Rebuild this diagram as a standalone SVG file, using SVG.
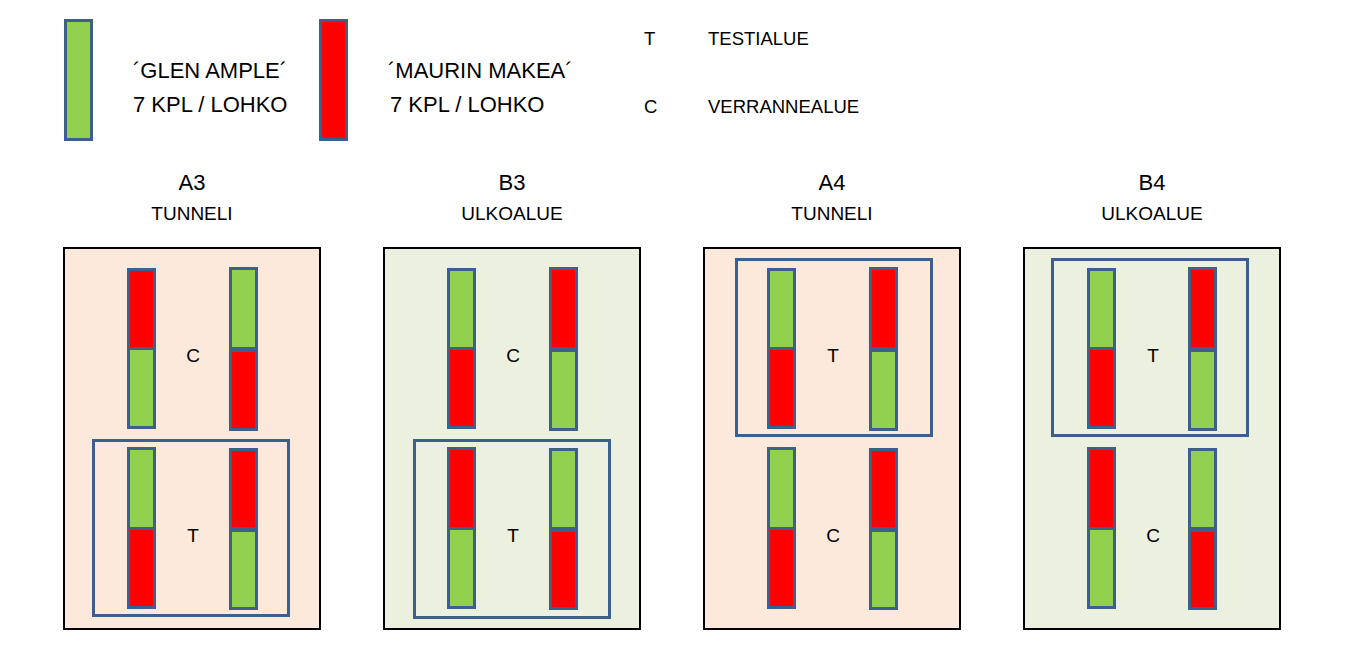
<svg xmlns="http://www.w3.org/2000/svg" width="1345" height="650" viewBox="0 0 1345 650">
<style>
text{font-family:"Liberation Sans",Arial,sans-serif;fill:#000}
.g{fill:#92d050;stroke:#3d5f8c;stroke-width:3}
.r{fill:#ff0000;stroke:#3d5f8c;stroke-width:3}
.box{fill:none;stroke:#3d5f8c;stroke-width:3}
.pa{fill:#fce9db;stroke:#000;stroke-width:2}
.pb{fill:#ebf1de;stroke:#000;stroke-width:2}
.lg{font-size:22px}
.sm{font-size:18.5px}
.tt{font-size:22px;text-anchor:middle}
.st{font-size:19px;text-anchor:middle}
.lb{font-size:19px;text-anchor:middle}
</style>
<g id="legend">
<rect class="g" x="65.5" y="20.5" width="26" height="119"/>
<text class="lg" x="133" y="78">´GLEN AMPLE´</text>
<text class="lg" x="133" y="112">7 KPL / LOHKO</text>
<rect class="r" x="320.5" y="20.5" width="26" height="119"/>
<text class="lg" x="388" y="78">´MAURIN MAKEA´</text>
<text class="lg" x="390" y="112">7 KPL / LOHKO</text>
<text class="sm" x="644" y="45">T</text>
<text class="sm" x="708" y="45">TESTIALUE</text>
<text class="sm" x="644" y="113">C</text>
<text class="sm" x="708" y="113">VERRANNEALUE</text>
</g>
<g id="A3">
<text class="tt" x="192" y="190">A3</text>
<text class="st" x="192" y="220">TUNNELI</text>
<rect class="pa" x="64" y="248" width="256" height="381"/>
<rect class="r" x="128.5" y="269.5" width="26" height="79"/>
<rect class="g" x="128.5" y="348.5" width="26" height="79"/>
<rect class="g" x="230.5" y="268.5" width="26" height="80"/>
<rect class="r" x="230.5" y="350.5" width="26" height="79"/>
<text class="lb" x="193" y="362">C</text>
<rect class="box" x="93.5" y="440.5" width="195" height="175"/>
<rect class="g" x="128.5" y="448.5" width="26" height="80"/>
<rect class="r" x="128.5" y="528.5" width="26" height="79"/>
<rect class="r" x="230.5" y="449.5" width="26" height="79"/>
<rect class="g" x="230.5" y="530.5" width="26" height="78"/>
<text class="lb" x="193" y="542">T</text>
</g>
<g id="B3">
<text class="tt" x="512" y="190">B3</text>
<text class="st" x="512" y="220">ULKOALUE</text>
<rect class="pb" x="384" y="248" width="256" height="381"/>
<rect class="g" x="448.5" y="269.5" width="26" height="79"/>
<rect class="r" x="448.5" y="348.5" width="26" height="79"/>
<rect class="r" x="550.5" y="268.5" width="26" height="80"/>
<rect class="g" x="550.5" y="350.5" width="26" height="79"/>
<text class="lb" x="513" y="362">C</text>
<rect class="box" x="414.5" y="440.5" width="195" height="177"/>
<rect class="r" x="448.5" y="448.5" width="26" height="80"/>
<rect class="g" x="448.5" y="528.5" width="26" height="79"/>
<rect class="g" x="550.5" y="449.5" width="26" height="79"/>
<rect class="r" x="550.5" y="530.5" width="26" height="78"/>
<text class="lb" x="513" y="542">T</text>
</g>
<g id="A4">
<text class="tt" x="832" y="190">A4</text>
<text class="st" x="832" y="220">TUNNELI</text>
<rect class="pa" x="704" y="248" width="256" height="381"/>
<rect class="box" x="736.5" y="259.5" width="195" height="176"/>
<rect class="g" x="768.5" y="269.5" width="26" height="79"/>
<rect class="r" x="768.5" y="348.5" width="26" height="79"/>
<rect class="r" x="870.5" y="268.5" width="26" height="80"/>
<rect class="g" x="870.5" y="350.5" width="26" height="79"/>
<text class="lb" x="833" y="362">T</text>
<rect class="g" x="768.5" y="448.5" width="26" height="80"/>
<rect class="r" x="768.5" y="528.5" width="26" height="79"/>
<rect class="r" x="870.5" y="449.5" width="26" height="79"/>
<rect class="g" x="870.5" y="530.5" width="26" height="78"/>
<text class="lb" x="833" y="542">C</text>
</g>
<g id="B4">
<text class="tt" x="1152" y="190">B4</text>
<text class="st" x="1152" y="220">ULKOALUE</text>
<rect class="pb" x="1024" y="248" width="256" height="381"/>
<rect class="box" x="1052.5" y="259.5" width="195" height="176"/>
<rect class="g" x="1088.5" y="269.5" width="26" height="79"/>
<rect class="r" x="1088.5" y="348.5" width="26" height="79"/>
<rect class="r" x="1189.5" y="268.5" width="26" height="80"/>
<rect class="g" x="1189.5" y="350.5" width="26" height="79"/>
<text class="lb" x="1153" y="362">T</text>
<rect class="r" x="1088.5" y="448.5" width="26" height="80"/>
<rect class="g" x="1088.5" y="528.5" width="26" height="79"/>
<rect class="g" x="1189.5" y="449.5" width="26" height="79"/>
<rect class="r" x="1189.5" y="530.5" width="26" height="78"/>
<text class="lb" x="1153" y="542">C</text>
</g>
<g id="connectors"></g>
</svg>
